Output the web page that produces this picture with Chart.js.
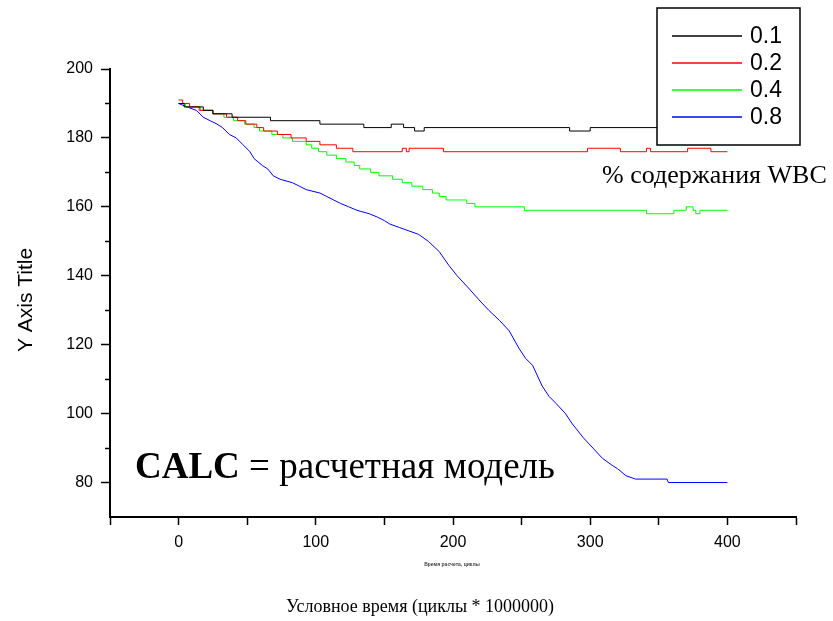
<!DOCTYPE html>
<html>
<head>
<meta charset="utf-8">
<script src="https://cdn.jsdelivr.net/npm/chart.js@4/dist/chart.umd.min.js"></script>
<style>
  html, body { margin: 0; padding: 0; background: #fff; }
  #wrap { width: 833px; height: 621px; }
</style>
</head>
<body>
<div id="wrap"><canvas id="chart" width="833" height="621"></canvas></div>
<script>
// Series (x = time, y = value), step points
const x01 = [0, 4, 18, 25, 39, 67, 103, 135, 155, 164, 172, 179, 285, 300, 400];
const y01 = [190, 189, 188, 187, 186, 185, 184, 183, 184, 183, 182, 183, 182, 183, 183];

const x02 = [0, 3, 8, 15, 25, 35, 43, 49, 57, 62, 72, 82, 93, 103, 115, 127, 163, 166, 168, 193, 298, 322, 341, 344, 371, 388, 400];
const y02 = [191, 190, 189, 188, 187, 186, 185, 184, 183, 182, 181, 180, 179, 178, 177, 176, 177, 176, 177, 176, 177, 176, 177, 176, 177, 176, 176];

const x04 = [0, 5, 16, 25, 33, 40, 48, 55, 59, 68, 76, 83, 93, 97, 102, 108, 115, 122, 128, 132, 140, 146, 156, 163, 170, 178, 185, 190, 195, 210, 216, 252, 341, 361, 370, 375, 377, 380, 400];
const y04 = [190, 189, 188, 187, 186, 185, 184, 183, 182, 181, 180, 179, 178, 177, 176, 175, 174, 173, 172, 171, 170, 169, 168, 167, 166, 165, 164, 163, 162, 161, 160, 159, 158, 159, 160, 159, 158, 159, 159];

const x08 = [0, 6, 13, 18, 23, 28, 32, 37, 42, 47, 52, 55, 58, 61, 65, 69, 74, 83, 88, 93, 103, 108, 113, 118, 124, 130, 139, 145, 150, 154, 161, 168, 175, 182, 190, 197, 203, 210, 219, 226, 234, 241, 248, 253, 258, 265, 270, 275, 282, 287, 295, 302, 309, 316, 320, 326, 333, 356, 357, 400];
const y08 = [190, 189, 188, 186, 185, 184, 183, 181, 180, 178, 176, 174, 173, 172, 171, 169, 168, 167, 166, 165, 164, 163, 162, 161, 160, 159, 158, 157, 156, 155, 154, 153, 152, 150, 147, 143, 140, 137, 133, 130, 127, 124, 119, 116, 114, 108, 105, 103, 100, 97, 93, 90, 87, 85, 84, 82, 81, 81, 80, 80];

const seriesLabels = ['0.1', '0.2', '0.4', '0.8'];
const xTickLabels = [0, 100, 200, 300, 400];
const yTickLabels = [80, 100, 120, 140, 160, 180, 200];

const seriesColors = ['#000000', '#ff0000', '#00ff00', '#0000ff'];

function toPoints(xs, ys) {
    return xs.map((x, i) => ({ x: x, y: ys[i] }));
}

const seriesData = [toPoints(x01, y01), toPoints(x02, y02), toPoints(x04, y04), toPoints(x08, y08)];

// minor y ticks, axis titles, annotations and the boxed legend
const extras = {
    id: 'extras',
    afterDraw(chart) {
        const c = chart.ctx;
        const area = chart.chartArea;
        const ys = chart.scales.y;
        c.save();

        // short ticks between labelled y values
        c.strokeStyle = '#000';
        c.lineWidth = 1.5;
        for (let v = 90; v < 200; v += 20) {
            const py = Math.round(ys.getPixelForValue(v)) + 0.5;
            c.beginPath();
            c.moveTo(area.left - 5, py);
            c.lineTo(area.left, py);
            c.stroke();
        }

        c.fillStyle = '#000';
        c.textBaseline = 'middle';

        // y axis title
        c.save();
        c.translate(26, (area.top + area.bottom) / 2 + 7);
        c.rotate(-Math.PI / 2);
        c.textAlign = 'center';
        c.font = '21px "Liberation Sans", Arial, sans-serif';
        c.fillText('Y Axis Title', 0, 0);
        c.restore();

        // tiny original x title
        c.textAlign = 'center';
        c.fillStyle = '#444';
        c.font = 'bold 5px "Liberation Sans", Arial, sans-serif';
        c.fillText('Время расчета, циклы', 452, 565);

        c.fillStyle = '#000';
        c.font = '18px "Liberation Serif", "Times New Roman", serif';
        c.fillText('Условное время (циклы * 1000000)', 420, 607);

        c.textAlign = 'left';
        c.font = '26px "Liberation Serif", "Times New Roman", serif';
        c.fillText('% содержания WBC', 602, 176);

        // CALC note
        c.textBaseline = 'alphabetic';
        c.font = 'bold 37px "Liberation Serif", "Times New Roman", serif';
        c.fillText('CALC', 135, 478);
        const w = c.measureText('CALC').width;
        c.font = '37px "Liberation Serif", "Times New Roman", serif';
        c.fillText(' = расчетная модель', 135 + w, 478);

        // legend box
        const lx = 657, ly = 8, lw = 143, lh = 137;
        c.fillStyle = '#fff';
        c.fillRect(lx, ly, lw, lh);
        c.strokeStyle = '#000';
        c.lineWidth = 1.5;
        c.strokeRect(lx, ly, lw, lh);
        c.textBaseline = 'middle';
        c.font = '23px "Liberation Sans", Arial, sans-serif';
        for (let i = 0; i < seriesLabels.length; i++) {
            const yy = 36 + i * 27;
            c.strokeStyle = seriesColors[i];
            c.lineWidth = 1.5;
            c.beginPath();
            c.moveTo(672, yy);
            c.lineTo(742, yy);
            c.stroke();
            c.fillStyle = '#000';
            c.fillText(seriesLabels[i], 750, yy + 1);
        }
        c.restore();
    }
};

new Chart(document.getElementById('chart'), {
    type: 'line',
    data: {
        datasets: seriesData.map((pts, i) => ({
            label: seriesLabels[i],
            data: pts,
            borderColor: seriesColors[i],
            borderWidth: 1,
            pointRadius: 0,
            fill: false,
            stepped: i === 3 ? false : true
        }))
    },
    options: {
        responsive: false,
        animation: false,
        events: [],
        layout: { padding: { top: 69, right: 37, left: 0, bottom: 0 } },
        plugins: {
            legend: { display: false },
            tooltip: { enabled: false }
        },
        scales: {
            x: {
                type: 'linear',
                min: -50,
                max: 450,
                afterFit: s => { s.height = 104; },
                border: { display: true, color: '#000', width: 2 },
                grid: { drawOnChartArea: false, drawTicks: true, tickLength: 8, tickWidth: 1.5, color: '#000' },
                ticks: {
                    stepSize: 50,
                    padding: 8,
                    color: '#000',
                    maxRotation: 0,
                    autoSkip: false,
                    font: { family: '"Liberation Sans", Arial, sans-serif', size: 16 },
                    callback: v => xTickLabels.includes(v) ? String(v) : ''
                }
            },
            y: {
                type: 'linear',
                min: 70,
                max: 200,
                afterFit: s => { s.width = 110; },
                border: { display: true, color: '#000', width: 2 },
                grid: {
                    drawOnChartArea: false,
                    drawTicks: true,
                    tickLength: 9,
                    tickWidth: 1.5,
                    color: t => yTickLabels.includes(t.tick.value) ? '#000' : 'rgba(0,0,0,0)'
                },
                ticks: {
                    stepSize: 10,
                    padding: 8,
                    color: '#000',
                    autoSkip: false,
                    font: { family: '"Liberation Sans", Arial, sans-serif', size: 16 },
                    callback: v => yTickLabels.includes(v) ? String(v) : ''
                }
            }
        }
    },
    plugins: [extras]
});
</script>
</body>
</html>
